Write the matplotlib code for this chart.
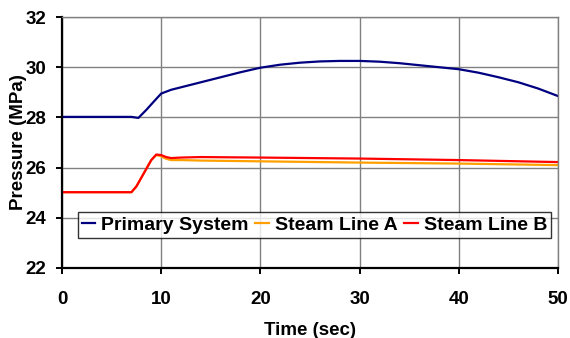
import matplotlib
matplotlib.use("Agg")
import matplotlib.pyplot as plt

# Primary system pressure (MPa) vs time (s)
t_primary = [0, 7.0, 7.7, 8.5, 9.3, 10, 11, 12, 14, 16, 18, 20, 22, 24, 26, 28,
             30, 32, 34, 36, 38, 40, 42, 44, 46, 48, 50]
p_primary = [28.02, 28.02, 27.98, 28.3, 28.65, 28.95, 29.1, 29.2, 29.4, 29.6, 29.8,
             29.98, 30.1, 30.18, 30.23, 30.25, 30.25, 30.22, 30.16, 30.08, 30.0,
             29.92, 29.78, 29.6, 29.4, 29.15, 28.85]

# Steam line pressures (MPa)
t_steam = [0, 7.0, 7.5, 8.0, 8.5, 9.0, 9.5, 10.0, 10.5, 11, 12, 14, 20, 30, 40, 50]
p_line_a = [25.02, 25.02, 25.25, 25.6, 25.95, 26.3, 26.5, 26.45, 26.35, 26.3, 26.3,
            26.28, 26.25, 26.2, 26.16, 26.1]
p_line_b = [25.02, 25.02, 25.25, 25.6, 25.95, 26.3, 26.52, 26.5, 26.42, 26.38, 26.4,
            26.42, 26.4, 26.36, 26.3, 26.22]

labels = ["Primary System", "Steam Line A", "Steam Line B"]
x_ticks = [0, 10, 20, 30, 40, 50]
y_ticks = [22, 24, 26, 28, 30, 32]

plt.rcParams["font.family"] = ["Liberation Sans", "DejaVu Sans"]
plt.rcParams["font.weight"] = "bold"
fs = 13.5

fig = plt.figure(figsize=(5.7, 3.38), dpi=100)
ax = fig.add_axes([62 / 570, 1 - 268 / 338, (558 - 62) / 570, (268 - 17) / 338])

ax.plot(t_primary, p_primary, color="#000080", lw=1.6, label=labels[0])
ax.plot(t_steam, p_line_a, color="#FFA000", lw=1.6, label=labels[1])
ax.plot(t_steam, p_line_b, color="#FF0000", lw=1.6, label=labels[2])

ax.set_xlim(0, 50)
ax.set_ylim(22, 32)
ax.set_xticks(x_ticks)
ax.set_yticks(y_ticks)
ax.grid(True, color="#808080", lw=1.0)
ax.set_axisbelow(True)

for side in ("top", "right"):
    ax.spines[side].set_color("#808080")
    ax.spines[side].set_linewidth(1.0)
for side in ("left", "bottom"):
    ax.spines[side].set_color("black")
    ax.spines[side].set_linewidth(1.6)

ax.tick_params(axis="both", direction="out", length=4.5, width=1.4, color="black",
               labelsize=fs)
ax.tick_params(axis="y", pad=7)
ax.tick_params(axis="x", pad=12)
for lab in ax.get_xticklabels() + ax.get_yticklabels():
    lab.set_fontweight("bold")

ax.set_xlabel("Time (sec)", fontsize=fs, fontweight="bold", labelpad=10)
ax.set_ylabel("Pressure (MPa)", fontsize=fs, fontweight="bold", labelpad=-1)

leg = ax.legend(loc="center", bbox_to_anchor=(314.5 / 570, 1 - 225 / 338),
                bbox_transform=fig.transFigure, ncol=3, fontsize=14,
                frameon=True, fancybox=False, handlelength=0.7,
                handletextpad=0.3, columnspacing=0.35, borderpad=0.2,
                borderaxespad=0)
leg.get_frame().set_edgecolor("black")
leg.get_frame().set_linewidth(1.0)
for txt in leg.get_texts():
    txt.set_fontweight("bold")

fig.savefig("out.png", dpi=100)
